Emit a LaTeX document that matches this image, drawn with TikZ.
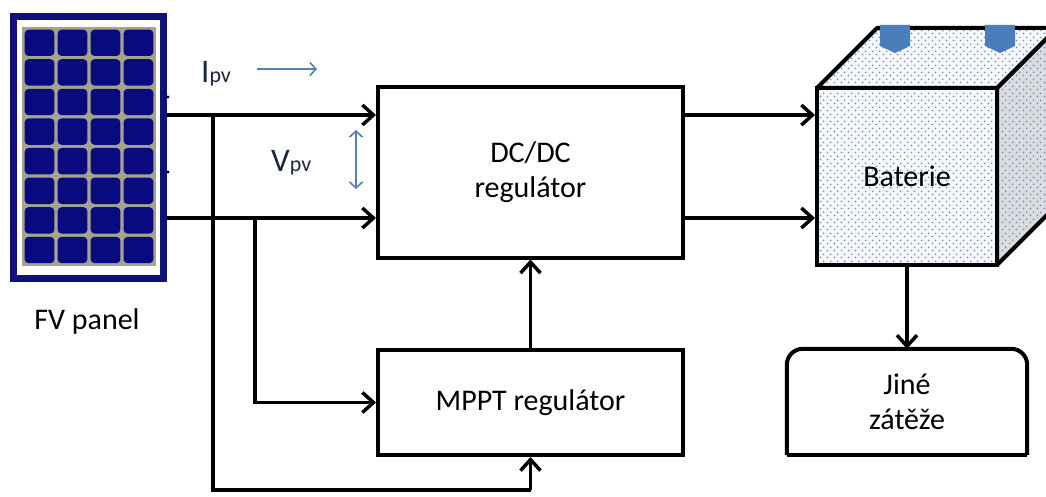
\documentclass[tikz,border=0pt]{standalone}
\usepackage{fontspec}
\setmainfont{Carlito}
\usetikzlibrary{arrows.meta,patterns.meta,calc}
\definecolor{navyc}{HTML}{0A0A80}
\definecolor{gridc}{HTML}{A4A48E}
\definecolor{framec}{HTML}{10107A}
\definecolor{termc}{HTML}{4A7EBB}
\definecolor{dotc}{HTML}{7A88B8}
\definecolor{facec}{HTML}{F5F8FC}
\definecolor{sidec}{HTML}{DADCDF}
\definecolor{lblue}{HTML}{4F81BD}
\definecolor{lbl}{HTML}{1C2640}
\tikzdeclarepattern{
  name=batdots, type=uncolored,
  bounding box={(0pt,0pt) and (7pt,7pt)},
  tile size={(7pt,7pt)},
  code={\fill (1.75pt,1.75pt) circle (1.05pt); \fill (5.25pt,5.25pt) circle (1.05pt);}
}
\begin{document}
\begin{tikzpicture}[x=1pt,y=-1pt,
  lab/.style={font=\fontsize{30}{36}\selectfont, align=center},
  blockbox/.style={draw, line width=4pt, fill=white, inner sep=0pt, lab},
  wire/.style={line width=3.5pt},
  arr/.style={wire, -{Straight Barb[length=11pt,width=20pt]}},
  barr/.style={lblue, line width=1.6pt},
  dotted face/.style={preaction={fill=facec}, pattern=batdots, pattern color=dotc}
]
\fill[white] (0,0) rectangle (1046,497);
\useasboundingbox (0,0) rectangle (1046,497);

% ---------- solar panel ----------
\node[minimum width=157pt, minimum height=269pt, inner sep=0pt] (panel) at (88.5,147.5) {};
\draw[framec, line width=6.5pt] (13.5,16.5) rectangle (163.5,278.5);
\fill[gridc] (22,27) rectangle (156,266);
\foreach \i in {0,...,3}
  \foreach \j in {0,...,7}
    \fill[navyc, rounded corners=4pt] ({23+\i*33+1.6},{28+\j*29.6+1.6}) rectangle ++(29.8,26.4);
\fill (168,97) circle (1.6pt);
\fill (168,172) circle (1.6pt);
\node[lab] (fv) at (87,322) {FV panel};

% ---------- blocks ----------
\node[blockbox, minimum width=305pt, minimum height=170pt] (dc) at (530.5,172.5) {DC/DC\\[-1pt]regulátor};
\node[blockbox, minimum width=305pt, minimum height=105pt] (mppt) at (530.5,402.5) {MPPT regulátor};

% Jine zateze: rounded top corners only
\node[lab, minimum width=240pt, minimum height=106pt, inner sep=0pt] (jine) at (907,402) {Jiné\\[-1pt]zátěže};
\draw[line width=4pt, rounded corners=16pt] (jine.south west) -- (jine.north west) -- (jine.north east) -- (jine.south east);
\draw[line width=4pt, line cap=square] (jine.south west) -- (jine.south east);

% ---------- battery ----------
\begin{scope}
\clip (0,0) rectangle (1046,497);
\fill[sidec] (997,88) -- (1057,28) -- (1057,205) -- (997,265) -- cycle;
\fill[pattern=batdots, pattern color=dotc] (997,88) -- (1057,28) -- (1057,205) -- (997,265) -- cycle;
\draw[line width=4pt, line join=round] (997,88) -- (1057,28) -- (1057,205) -- (997,265) -- cycle;
\draw[line width=4pt, line join=round, dotted face] (817,88) -- (877,28) -- (1057,28) -- (997,88) -- cycle;
\fill[termc] (880,25) -- (910,25) -- (910,46) -- (895,53) -- (880,46) -- cycle;
\fill[termc] (985,25) -- (1015,25) -- (1015,46) -- (1000,53) -- (985,46) -- cycle;
\end{scope}
\node[draw, line width=4pt, dotted face, minimum width=180pt, minimum height=177pt, inner sep=0pt, lab] (bat) at (907,176.5) {\raisebox{-5pt}{Baterie}};

% ---------- wiring ----------
\coordinate (tp) at (panel.east |- 0,115);
\coordinate (bp) at (panel.east |- 0,218);
\coordinate (j1) at (213,115);
\coordinate (j3) at (255,218);
\coordinate (low) at (0,490);

\draw[arr] (tp) -- (dc.west |- tp);
\draw[arr] (bp) -- (dc.west |- bp);
\draw[wire] (j1) |- (mppt.south |- low);
\draw[arr] (mppt.south |- low) -- (mppt.south);
\draw[arr] (j3) |- (mppt.west);
\draw[arr] (mppt.north) -- (dc.south);
\draw[arr] (dc.east |- tp) -- (bat.west |- tp);
\draw[arr] (dc.east |- bp) -- (bat.west |- bp);
\draw[arr] (bat.south) -- (jine.north);

% ---------- Ipv / Vpv ----------
\node[text=lbl, font=\fontsize{33}{33}\selectfont, anchor=base west, inner sep=0pt] (ipv) at (201,83) {I{\fontsize{22}{22}\selectfont pv}};
\node[text=lbl, font=\fontsize{33}{33}\selectfont, anchor=base west, inner sep=0pt] (vpv) at (271,172) {V{\fontsize{22}{22}\selectfont pv}};
\coordinate (ia) at (257,69);
\coordinate (ib) at (317,69);
\draw[barr, -{Straight Barb[length=6pt,width=13pt]}] (ia) -- (ib);
\coordinate (va) at (356,130);
\coordinate (vb) at (356,189);
\draw[barr, {Straight Barb[length=6pt,width=13pt]}-{Straight Barb[length=6pt,width=13pt]}] (va) -- (vb);
\end{tikzpicture}
\end{document}
